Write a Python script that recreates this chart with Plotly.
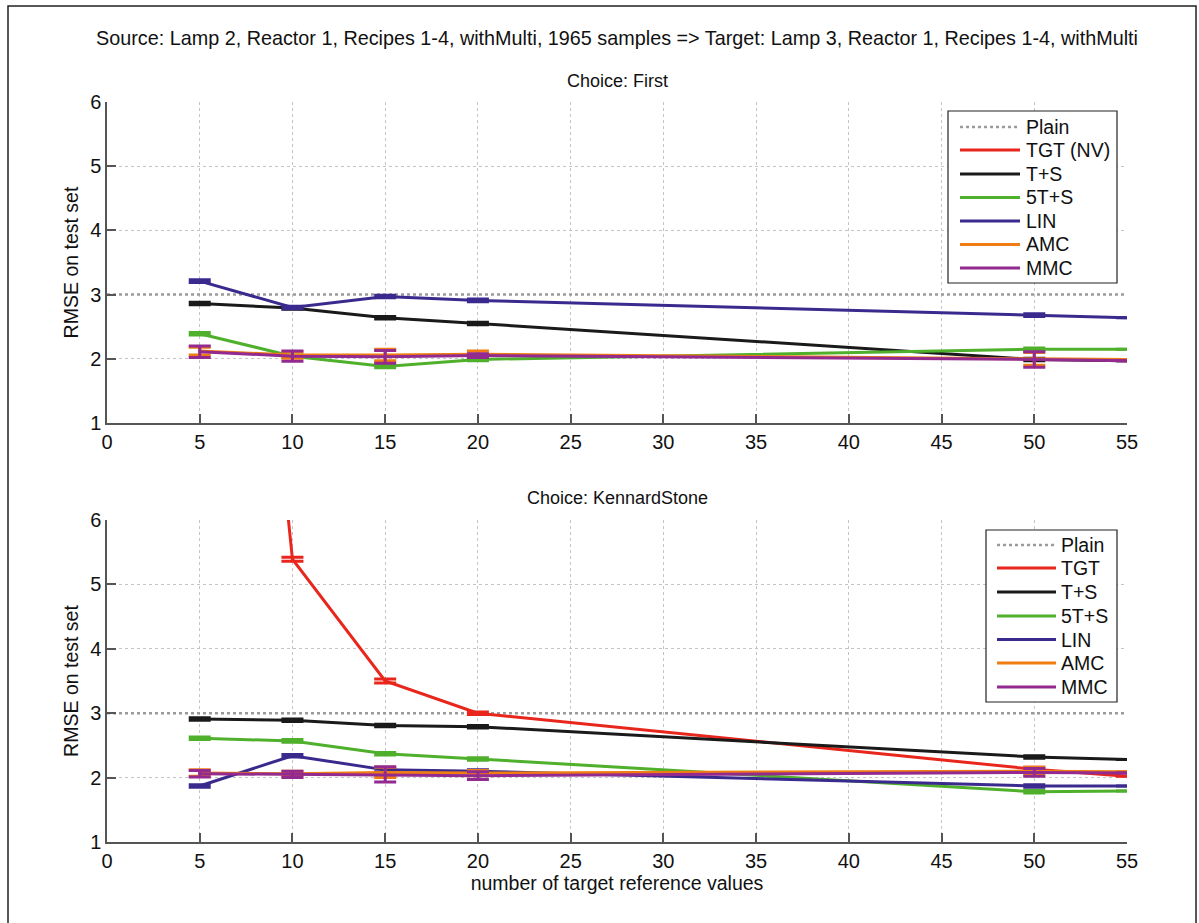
import plotly.graph_objects as go

# ---- data -------------------------------------------------------------
n_ref = [5, 10, 15, 20, 50, 55]
plain_level = 3.0

series_keys = ["TGT", "T+S", "5T+S", "LIN", "AMC", "MMC"]
series_names_first = ["TGT (NV)", "T+S", "5T+S", "LIN", "AMC", "MMC"]
series_names_ks = ["TGT", "T+S", "5T+S", "LIN", "AMC", "MMC"]

# Choice: First
first_tgt = [None, None, None, None, None, None]
first_ts = [2.86, 2.79, 2.64, 2.55, 1.99, 1.97]
first_5ts = [2.39, 2.04, 1.88, 1.99, 2.15, 2.15]
first_lin = [3.21, 2.80, 2.97, 2.91, 2.68, 2.64]
first_amc = [2.12, 2.06, 2.06, 2.07, 2.00, 1.99]
first_mmc = [2.11, 2.04, 2.03, 2.05, 1.99, 1.97]

first_tgt_err = [0, 0, 0, 0, 0, 0]
first_ts_err = [0.02, 0.02, 0.02, 0.02, 0.02, 0]
first_5ts_err = [0.02, 0.02, 0.02, 0.02, 0.02, 0]
first_lin_err = [0.02, 0.02, 0.02, 0.02, 0.02, 0]
first_amc_err = [0.06, 0.05, 0.09, 0.05, 0.10, 0]
first_mmc_err = [0.09, 0.08, 0.10, 0.03, 0.12, 0]

# Choice: KennardStone
ks_tgt = [19.5, 5.39, 3.50, 3.00, 2.13, 2.02]
ks_ts = [2.91, 2.89, 2.81, 2.79, 2.32, 2.28]
ks_5ts = [2.61, 2.57, 2.37, 2.29, 1.78, 1.79]
ks_lin = [1.87, 2.34, 2.12, 2.10, 1.87, 1.87]
ks_amc = [2.07, 2.06, 2.08, 2.07, 2.10, 2.09]
ks_mmc = [2.06, 2.05, 2.05, 2.03, 2.08, 2.07]

ks_tgt_err = [0.03, 0.03, 0.03, 0.02, 0.03, 0]
ks_ts_err = [0.02, 0.02, 0.02, 0.02, 0.02, 0]
ks_5ts_err = [0.02, 0.02, 0.02, 0.02, 0.02, 0]
ks_lin_err = [0.02, 0.02, 0.03, 0.02, 0.02, 0]
ks_amc_err = [0.05, 0.04, 0.08, 0.04, 0.06, 0]
ks_mmc_err = [0.05, 0.05, 0.12, 0.06, 0.06, 0]

x_ticks = [0, 5, 10, 15, 20, 25, 30, 35, 40, 45, 50, 55]
y_ticks = [1, 2, 3, 4, 5, 6]

main_title = ("Source: Lamp 2, Reactor 1, Recipes 1-4, withMulti, 1965 samples "
              "=> Target: Lamp 3, Reactor 1, Recipes 1-4, withMulti")

# ---- styling ----------------------------------------------------------
W, H = 1199, 923
ML, MR, MT, MB = 107, 72, 102, 81
PH = H - MT - MB
PW = W - ML - MR
FONT = "Liberation Sans, Arial, sans-serif"
TXT = "#111111"

colors = {
    "TGT": "#e8261c",
    "T+S": "#1a1a1a",
    "5T+S": "#4fb02c",
    "LIN": "#3b2a8e",
    "AMC": "#f07d12",
    "MMC": "#922a90",
}
plain_color = "#9a9a9a"


def py(pix):
    """Pixel row -> paper y fraction."""
    return (H - MB - pix) / PH


def px(pix):
    """Pixel column -> paper x fraction."""
    return (pix - ML) / PW


fig = go.Figure()


def add_panel(xa, ya, values, errors):
    # horizontal reference for the plain model
    fig.add_trace(go.Scatter(
        x=[x_ticks[0], x_ticks[-1]], y=[plain_level, plain_level],
        mode="lines", name="Plain", xaxis=xa, yaxis=ya, showlegend=False,
        line=dict(color=plain_color, width=2.5, dash="dot"),
    ))
    for key, yv, ev in zip(series_keys, values, errors):
        fig.add_trace(go.Scatter(
            x=n_ref, y=yv, mode="lines", name=key, xaxis=xa, yaxis=ya,
            showlegend=False,
            line=dict(color=colors[key], width=3),
            error_y=dict(type="data", array=ev, visible=True,
                         color=colors[key], thickness=3, width=11),
        ))


add_panel("x", "y",
          [first_tgt, first_ts, first_5ts, first_lin, first_amc, first_mmc],
          [first_tgt_err, first_ts_err, first_5ts_err, first_lin_err,
           first_amc_err, first_mmc_err])
add_panel("x2", "y2",
          [ks_tgt, ks_ts, ks_5ts, ks_lin, ks_amc, ks_mmc],
          [ks_tgt_err, ks_ts_err, ks_5ts_err, ks_lin_err, ks_amc_err, ks_mmc_err])

axis_common = dict(
    showline=True, linecolor="#555555", linewidth=1.5, mirror=False,
    ticks="inside", ticklen=9, tickcolor="#555555", tickwidth=1.5,
    showgrid=True, gridcolor="#c4c4c4", griddash="dot", gridwidth=1,
    zeroline=False, tickfont=dict(family=FONT, size=20, color=TXT),
)

top_dom = [py(423), 1.0]
bot_dom = [0.0, py(520)]
ytitle = dict(text="RMSE on test set", font=dict(family=FONT, size=19.5, color=TXT),
              standoff=6)

fig.update_layout(
    width=W, height=H,
    margin=dict(l=ML, r=MR, t=MT, b=MB),
    paper_bgcolor="white", plot_bgcolor="white",
    font=dict(family=FONT, size=19, color=TXT),
    showlegend=False,
    xaxis=dict(axis_common, range=[0, 55], tickvals=x_ticks, anchor="y"),
    yaxis=dict(axis_common, range=[1, 6], tickvals=y_ticks, domain=top_dom,
               anchor="x", title=ytitle),
    xaxis2=dict(axis_common, range=[0, 55], tickvals=x_ticks, anchor="y2",
                title=dict(text="number of target reference values",
                           font=dict(family=FONT, size=19.5, color=TXT),
                           standoff=2)),
    yaxis2=dict(axis_common, range=[1, 6], tickvals=y_ticks, domain=bot_dom,
                anchor="x2", title=ytitle),
)

# titles
fig.add_annotation(text=main_title, xref="paper", yref="paper",
                   x=0.5, y=py(38), showarrow=False,
                   font=dict(family=FONT, size=19.8, color=TXT),
                   xanchor="center", yanchor="middle")
fig.add_annotation(text="Choice: First", xref="paper", yref="paper",
                   x=0.5, y=py(81), showarrow=False,
                   font=dict(family=FONT, size=18, color=TXT), yanchor="middle")
fig.add_annotation(text="Choice: KennardStone", xref="paper", yref="paper",
                   x=0.5, y=py(498), showarrow=False,
                   font=dict(family=FONT, size=18, color=TXT), yanchor="middle")


# boxed legends
def draw_legend(names, box, line_x, text_x, rows):
    x0, y0, x1, y1 = box
    fig.add_shape(type="rect", xref="paper", yref="paper",
                  x0=px(x0), x1=px(x1), y0=py(y1), y1=py(y0),
                  line=dict(color="#222222", width=1.2), fillcolor="white",
                  layer="above")
    entries = [("Plain", plain_color, "dot")] + [
        (n, colors[k], "solid") for n, k in zip(names, series_keys)]
    for (label, col, dash), row in zip(entries, rows):
        fig.add_shape(type="line", xref="paper", yref="paper",
                      x0=px(line_x[0]), x1=px(line_x[1]), y0=py(row), y1=py(row),
                      line=dict(color=col, width=3 if dash == "solid" else 2.5,
                                dash=dash), layer="above")
        fig.add_annotation(text=label, xref="paper", yref="paper",
                           x=px(text_x), y=py(row), showarrow=False,
                           xanchor="left", yanchor="middle",
                           font=dict(family=FONT, size=19.5, color=TXT))


draw_legend(series_names_first, (948, 111, 1117, 283), (960, 1020), 1024,
            [127, 150, 174, 197.5, 221, 244.5, 268])
draw_legend(series_names_ks, (986, 530, 1117, 702), (997, 1056), 1059,
            [545, 568, 592, 616, 639.5, 663, 687])

# outer frame around the whole figure
fig.add_shape(type="rect", xref="paper", yref="paper",
              x0=px(8), x1=px(1196), y0=py(930), y1=py(6),
              line=dict(color="#222222", width=1.5), layer="below")

fig.write_html("out.html")
